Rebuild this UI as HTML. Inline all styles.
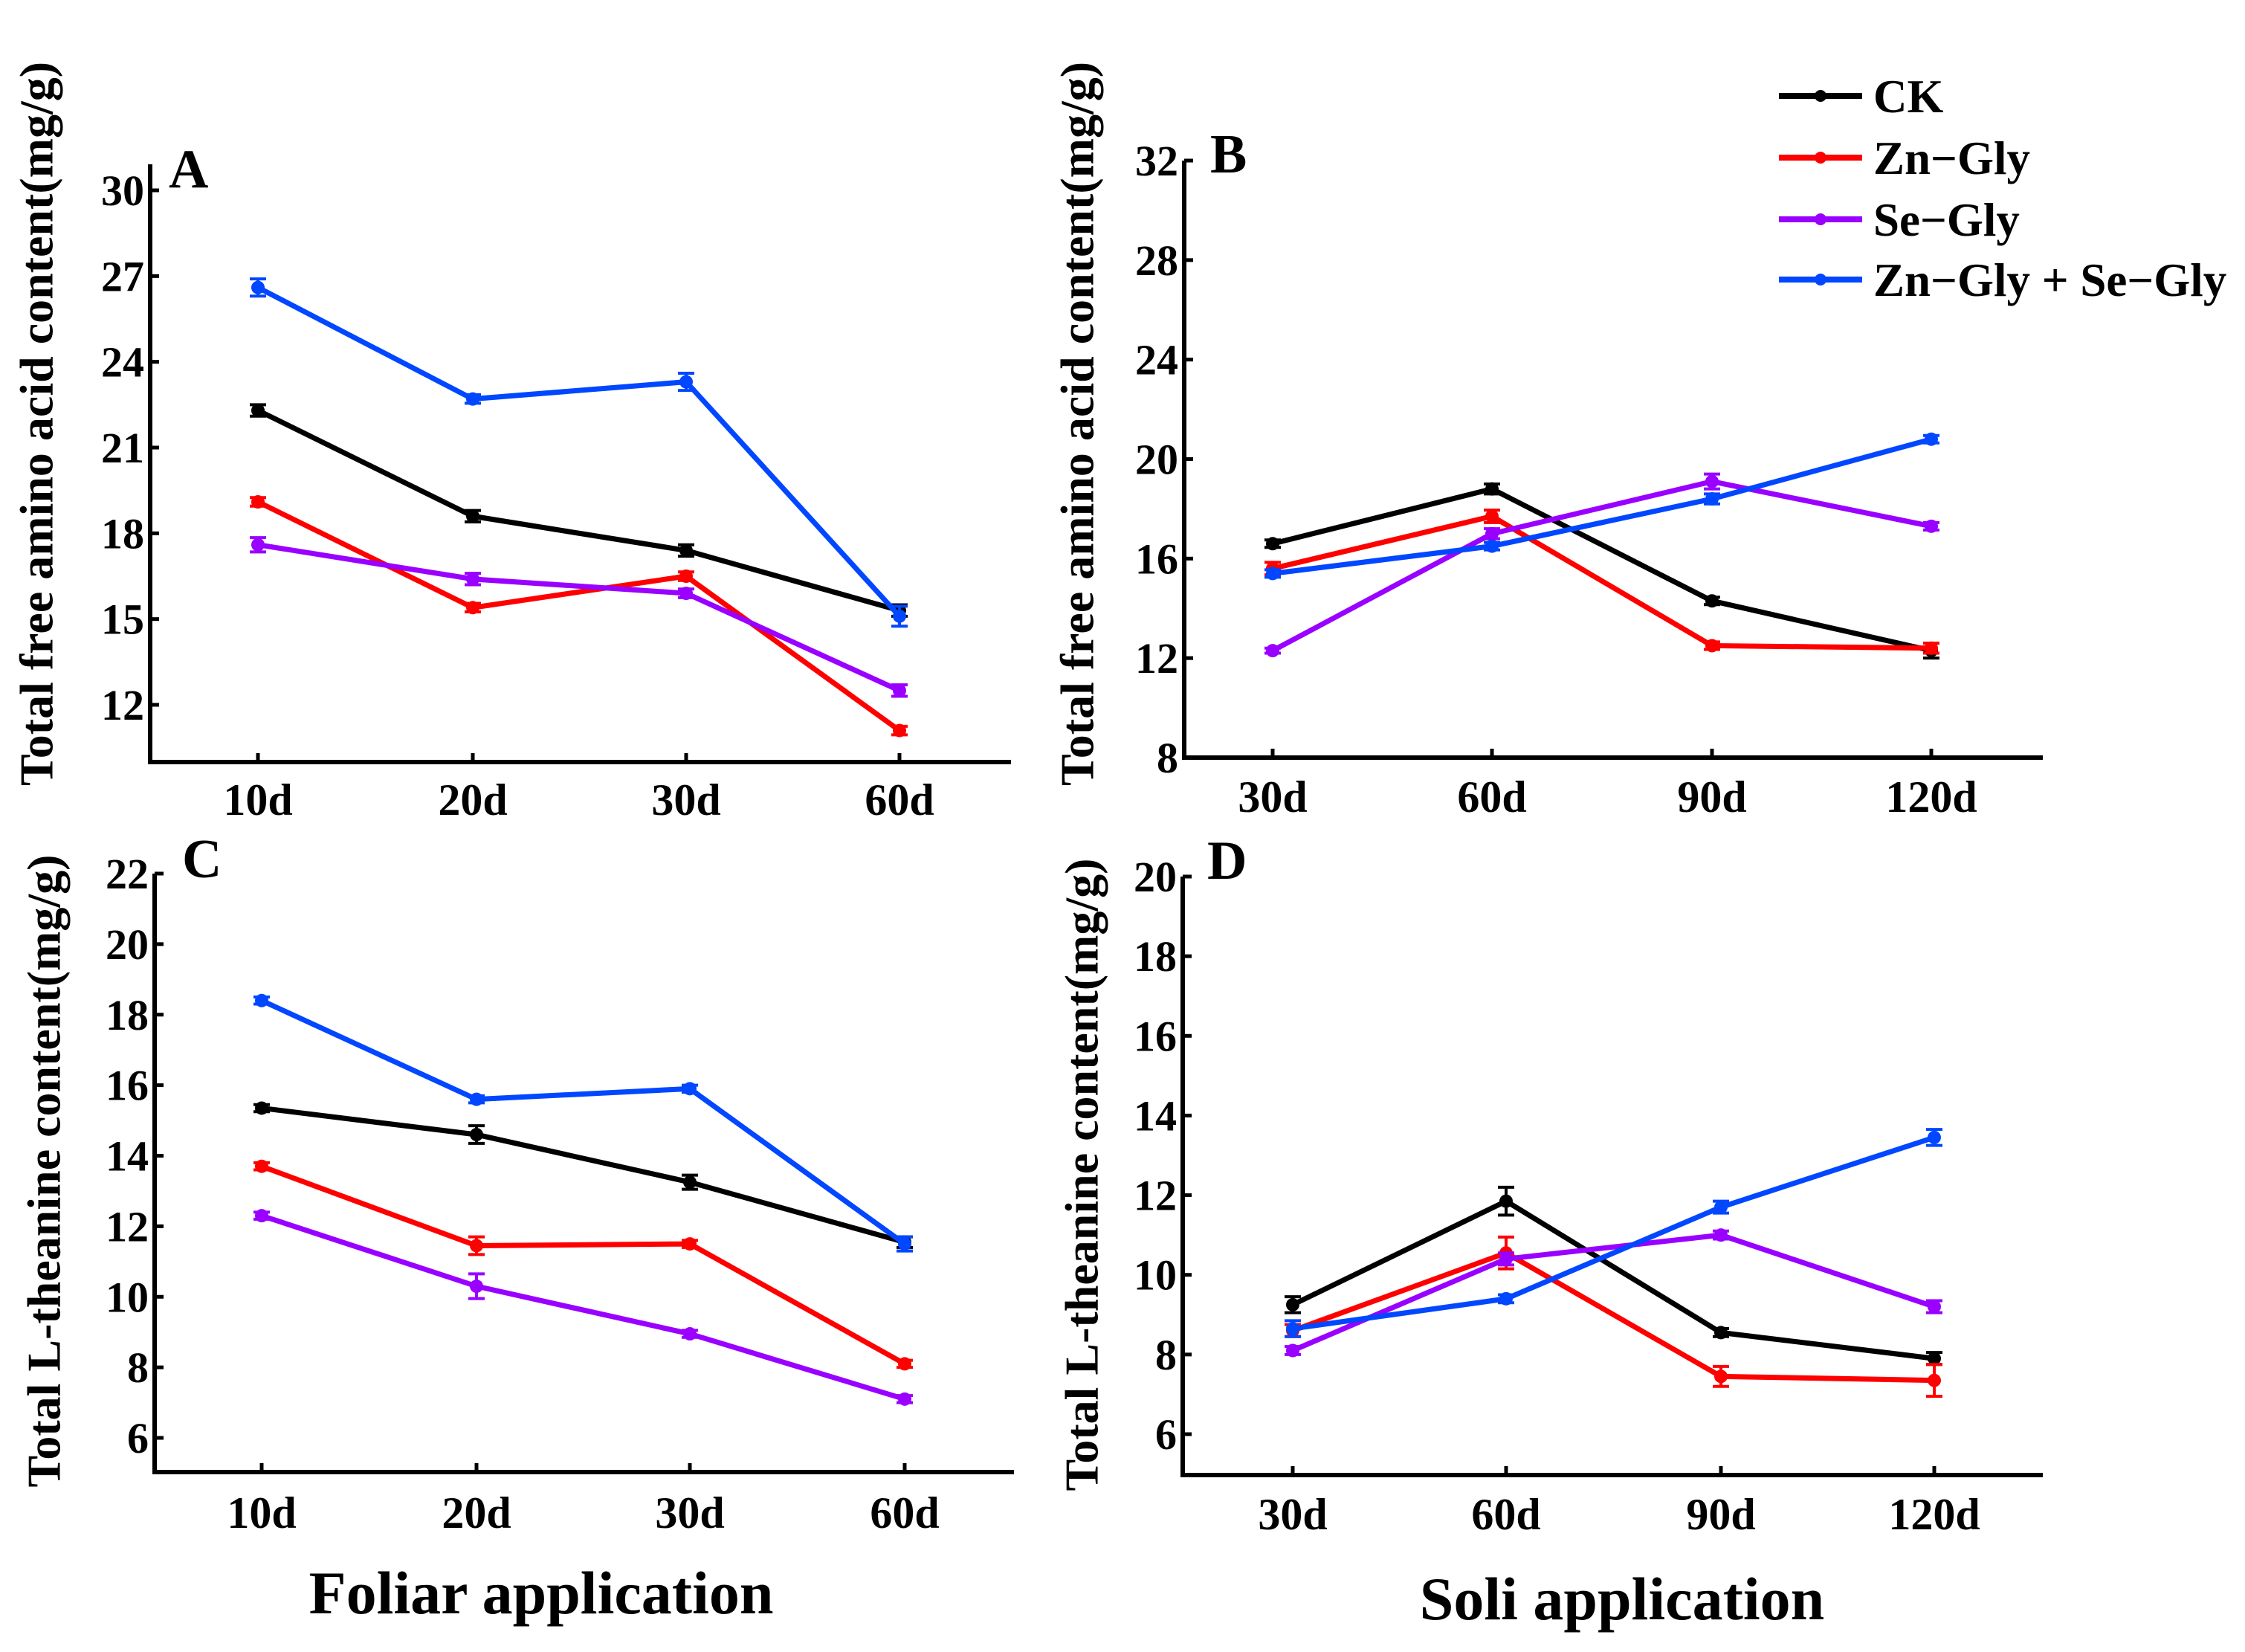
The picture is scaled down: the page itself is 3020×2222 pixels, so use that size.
<!DOCTYPE html>
<html><head><meta charset="utf-8"><style>
html,body{margin:0;padding:0;background:#fff;}
svg{display:block;font-family:"Liberation Serif",serif;font-weight:bold;}
</style></head><body>
<svg id="chart" width="3020" height="2222" viewBox="0 0 3020 2222" xmlns="http://www.w3.org/2000/svg">
<rect width="3020" height="2222" fill="#fff"/>
</svg>
<script>
// ---- data ----
const seriesNames = ["CK","Zn\u2212Gly","Se\u2212Gly","Zn\u2212Gly + Se\u2212Gly"];
const seriesColors = ["#000000","#ff0000","#9900ff","#0047ff"];
const catsFoliar = ["10d","20d","30d","60d"];
const catsSoil = ["30d","60d","90d","120d"];
const aCK=[22.3,18.6,17.4,15.3], aZn=[19.1,15.4,16.5,11.1], aSe=[17.6,16.4,15.9,12.5], aBoth=[26.6,22.7,23.3,15.1];
const aErr=[0.2,0.2,0.2,0.2, 0.15,0.15,0.15,0.15, 0.25,0.2,0.15,0.2, 0.3,0.15,0.3,0.35];
const bCK=[16.6,18.8,14.3,12.3], bZn=[15.6,17.7,12.5,12.4], bSe=[12.3,17.0,19.1,17.3], bBoth=[15.4,16.5,18.4,20.8];
const bErr=[0.15,0.2,0.15,0.3, 0.25,0.25,0.15,0.2, 0.1,0.2,0.3,0.15, 0.15,0.15,0.2,0.15];
const cCK=[15.35,14.6,13.25,11.55], cZn=[13.7,11.45,11.5,8.1], cSe=[12.3,10.3,8.95,7.1], cBoth=[18.4,15.6,15.9,11.5];
const cErr=[0.1,0.25,0.2,0.15, 0.1,0.25,0.1,0.1, 0.1,0.35,0.1,0.1, 0.1,0.1,0.1,0.2];
const dCK=[9.25,11.85,8.55,7.9], dZn=[8.6,10.55,7.45,7.35], dSe=[8.1,10.4,11.0,9.2], dBoth=[8.65,9.4,11.7,13.45];
const dErr=[0.2,0.35,0.1,0.15, 0.15,0.4,0.25,0.4, 0.1,0.15,0.1,0.15, 0.2,0.1,0.15,0.2];
const aTicks=[12,15,18,21,24,27,30], bTicks=[8,12,16,20,24,28,32], cTicks=[6,8,10,12,14,16,18,20,22], dTicks=[6,8,10,12,14,16,18,20];

const NS="http://www.w3.org/2000/svg";
const svg=document.getElementById("chart");
function mk(tag,attrs,parent,text){const e=document.createElementNS(NS,tag);for(const k in attrs)e.setAttribute(k,attrs[k]);if(text!==undefined)e.textContent=text;(parent||svg).appendChild(e);return e;}

const panels=[
 {id:"a",letter:"A",lx:227,ly:252,x0:202,x1:1360,yb:1025,ytop:221,vAt:[12,948],vAt2:[30,256],catX:[347,636,923,1210],cats:catsFoliar,ticks:aTicks,series:[aCK,aZn,aSe,aBoth],err:aErr,xlY:1096,
  ytitle:"Total  free amino acid content(mg/g)",ytx:56,yty:570},
 {id:"b",letter:"B",lx:1628,ly:232,x0:1593,x1:2748,yb:1019,ytop:216,vAt:[8,1019],vAt2:[32,216],catX:[1712,2007,2303,2598],cats:catsSoil,ticks:bTicks,series:[bCK,bZn,bSe,bBoth],err:bErr,xlY:1092,
  ytitle:"Total  free amino acid content(mg/g)",ytx:1456,yty:570},
 {id:"c",letter:"C",lx:245,ly:1180,x0:208,x1:1364,yb:1980,ytop:1175,vAt:[6,1934],vAt2:[22,1175],catX:[352,641,928,1217],cats:catsFoliar,ticks:cTicks,series:[cCK,cZn,cSe,cBoth],err:cErr,xlY:2055,
  ytitle:"Total L-theanine content(mg/g)",ytx:66,yty:1575},
 {id:"d",letter:"D",lx:1624,ly:1182,x0:1591,x1:2748,yb:1984,ytop:1179,vAt:[6,1929],vAt2:[20,1179],catX:[1739,2026,2315,2602],cats:catsSoil,ticks:dTicks,series:[dCK,dZn,dSe,dBoth],err:dErr,xlY:2057,
  ytitle:"Total L-theanine content(mg/g)",ytx:1462,yty:1580}
];

panels.forEach(p=>{
  const g=mk("g",{});
  
  
  const k=(p.vAt2[1]-p.vAt[1])/(p.vAt2[0]-p.vAt[0]);
  const y=v=>p.vAt[1]+(v-p.vAt[0])*k;
  const x=i=>p.catX[i];
  const ya=mk("line",{x1:p.x0,y1:p.ytop,x2:p.x0,y2:p.yb+3,stroke:"#000","stroke-width":6},g);
  
  
  const xa=mk("line",{x1:p.x0-3,y1:p.yb,x2:p.x1,y2:p.yb,stroke:"#000","stroke-width":6},g);
  
  
  p.ticks.forEach(t=>{
    const yy=y(t);
    mk("line",{x1:p.x0,y1:yy,x2:p.x0+12,y2:yy,stroke:"#000","stroke-width":5},g);
    const tl=mk("text",{x:p.x0-8,y:yy+20,"text-anchor":"end","font-size":58},g,String(t));
    
    
  });
  p.cats.forEach((c,i)=>{
    mk("line",{x1:x(i),y1:p.yb,x2:x(i),y2:p.yb-12,stroke:"#000","stroke-width":5},g);
    const tl=mk("text",{x:x(i),y:p.xlY,"text-anchor":"middle","font-size":60},g,c);
    
    
  });
  const L=mk("text",{x:p.lx,y:p.ly,"font-size":74},g,p.letter);
  
  
  const yt=mk("text",{x:p.ytx,y:p.yty,"text-anchor":"middle","font-size":64,transform:`rotate(-90 ${p.ytx} ${p.yty})`,"dominant-baseline":"middle"},g,p.ytitle);
  
  
  p.series.forEach((vals,s)=>{
    const col=seriesColors[s];
    const pts=vals.map((v,i)=>x(i)+","+y(v)).join(" ");
    const pl=mk("polyline",{points:pts,fill:"none",stroke:col,"stroke-width":7,"stroke-linejoin":"round"},g);
    
    
    vals.forEach((v,i)=>{
      const e=p.err[s*4+i];
      const y1=y(v+e),y2=y(v-e);
      mk("path",{d:`M${x(i)} ${y1}V${y2}M${x(i)-11} ${y1}H${x(i)+11}M${x(i)-11} ${y2}H${x(i)+11}`,stroke:col,"stroke-width":4,fill:"none"},g);
      const c=mk("circle",{cx:x(i),cy:y(v),r:9,fill:col},g);
      
      
    });
  });
});

const legY=[129,212,295,376];
seriesNames.forEach((n,i)=>{
  const g=mk("g",{});
  
  
  mk("line",{x1:2393,y1:legY[i],x2:2505,y2:legY[i],stroke:seriesColors[i],"stroke-width":8},g);
  mk("circle",{cx:2449,cy:legY[i],r:8,fill:seriesColors[i]},g);
  mk("text",{x:2520,y:legY[i]+22,"font-size":63},g,n);
});

const t1=mk("text",{x:728,y:2170,"text-anchor":"middle","font-size":82},svg,"Foliar application");


const t2=mk("text",{x:2182,y:2178,"text-anchor":"middle","font-size":82},svg,"Soli application");


</script>
</body></html>
